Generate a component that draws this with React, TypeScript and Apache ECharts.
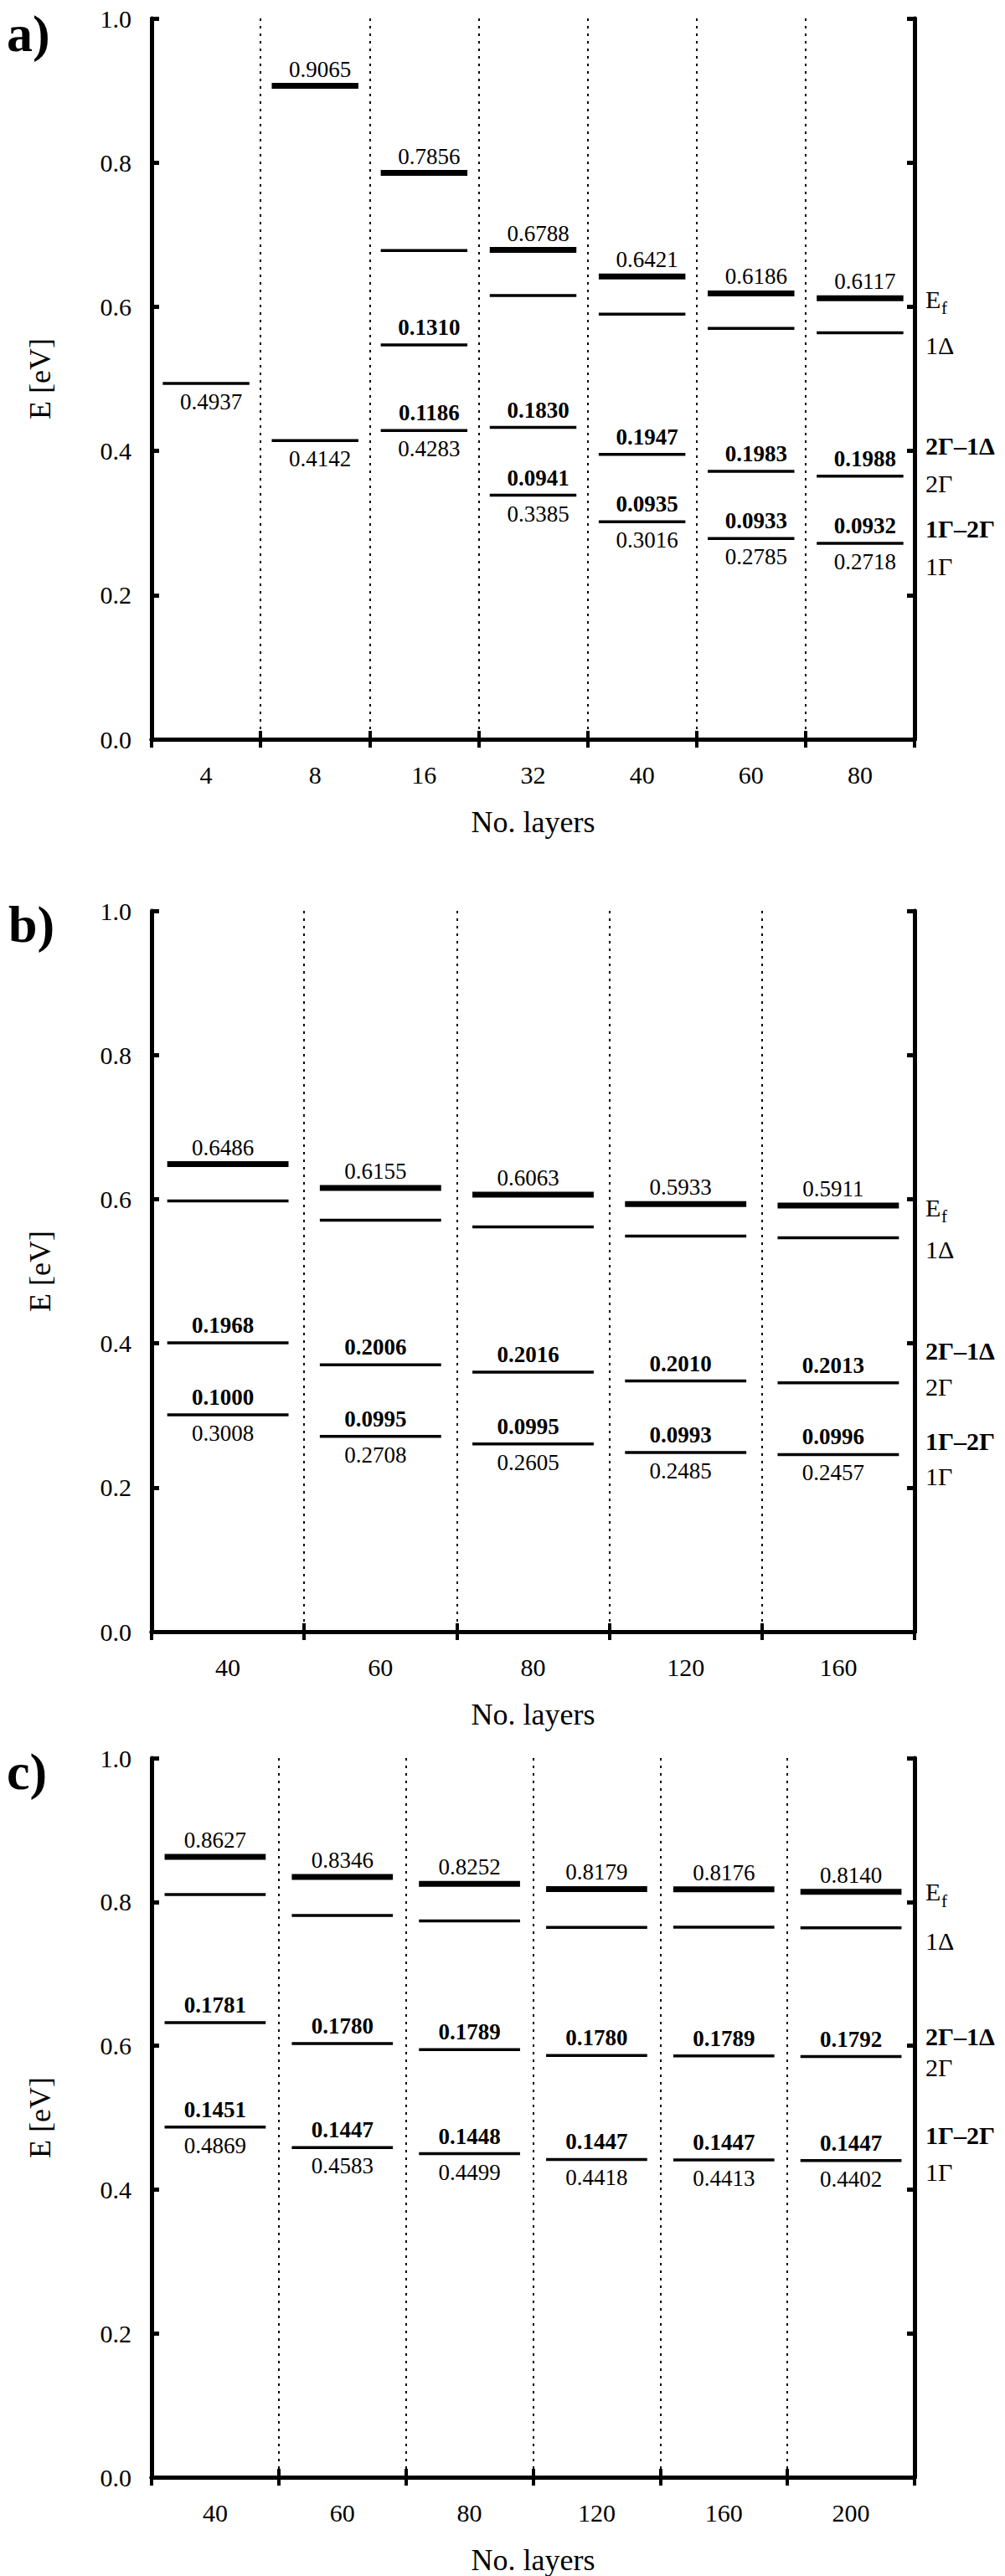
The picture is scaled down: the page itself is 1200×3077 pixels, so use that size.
import React, { useEffect, useRef } from 'react';
import * as echarts from 'echarts';

// ---------- data ----------
// panel a)
const layersA = ['4', '8', '16', '32', '40', '60', '80'];
const efA = [null, 0.9065, 0.7856, 0.6788, 0.6421, 0.6186, 0.6117];
const delta1A = [null, null, 0.6779, 0.6156, 0.5898, 0.5701, 0.5638];
const gamma2A = [null, null, 0.5469, 0.4326, 0.3951, 0.3718, 0.365];
const gamma1A = [0.4937, 0.4142, 0.4283, 0.3385, 0.3016, 0.2785, 0.2718];
const gap2G1DA = [null, null, 0.131, 0.183, 0.1947, 0.1983, 0.1988];
const gap1G2GA = [null, null, 0.1186, 0.0941, 0.0935, 0.0933, 0.0932];

// panel b)
const layersB = ['40', '60', '80', '120', '160'];
const efB = [0.6486, 0.6155, 0.6063, 0.5933, 0.5911];
const delta1B = [0.5976, 0.5709, 0.5616, 0.5488, 0.5466];
const gamma2B = [0.4008, 0.3703, 0.36, 0.3478, 0.3453];
const gamma1B = [0.3008, 0.2708, 0.2605, 0.2485, 0.2457];
const gap2G1DB = [0.1968, 0.2006, 0.2016, 0.201, 0.2013];
const gap1G2GB = [0.1, 0.0995, 0.0995, 0.0993, 0.0996];

// panel c)
const layersC = ['40', '60', '80', '120', '160', '200'];
const efC = [0.8627, 0.8346, 0.8252, 0.8179, 0.8176, 0.814];
const delta1C = [0.8101, 0.781, 0.7736, 0.7645, 0.7649, 0.7641];
const gamma2C = [0.632, 0.603, 0.5947, 0.5865, 0.586, 0.5849];
const gamma1C = [0.4869, 0.4583, 0.4499, 0.4418, 0.4413, 0.4402];
const gap2G1DC = [0.1781, 0.178, 0.1789, 0.178, 0.1789, 0.1792];
const gap1G2GC = [0.1451, 0.1447, 0.1448, 0.1447, 0.1447, 0.1447];

// axis
const yMin = 0;
const yMax = 1;
const yStep = 0.2;
const xTitle = 'No. layers';
const yTitle = 'E [eV]';
const levelNames = ['E', '1Δ', '2Γ–1Δ', '2Γ', '1Γ–2Γ', '1Γ'];
const levelBold = [false, false, true, false, true, false];

// ---------- layout / style ----------
const FONT = 'Liberation Serif, Times New Roman, serif';
const GRID_LEFT = 181;
const GRID_W = 911;
const GRID_H = 861;
const BAR_FRAC = 0.795;

type Arr = (number | null)[];
type Panel = {
  cats: string[];
  ef: Arr;
  d1: Arr;
  g2: Arr;
  g1: number[];
  gapD: Arr;
  gapG: Arr;
  top: number;
  labelDx: number;
  rightDy: number[];
  letter: string;
  letterX: number;
  letterY: number;
};

const panels: Panel[] = [
  {
    cats: layersA, ef: efA, d1: delta1A, g2: gamma2A, g1: gamma1A, gapD: gap2G1DA, gapG: gap1G2GA,
    top: 22, labelDx: 6, rightDy: [1, 15, -36, 9, -17, 28], letter: 'a)', letterX: 8, letterY: 40,
  },
  {
    cats: layersB, ef: efB, d1: delta1B, g2: gamma2B, g1: gamma1B, gapD: gap2G1DB, gapG: gap1G2GB,
    top: 1088, labelDx: -6, rightDy: [2, 14, -38, 5, -16, 26], letter: 'b)', letterX: 10, letterY: 1104,
  },
  {
    cats: layersC, ef: efC, d1: delta1C, g2: gamma2C, g1: gamma1C, gapD: gap2G1DC, gapG: gap1G2GC,
    top: 2100, labelDx: 0, rightDy: [0, 16, -24, 13, -30, 14], letter: 'c)', letterX: 8, letterY: 2116,
  },
];

function makeRenderer(p: Panel) {
  return (params: any, api: any) => {
    const i = params.dataIndex;
    const cs = params.coordSys;
    const w = api.size([1, 0])[0] * BAR_FRAC;
    const cx = api.coord([i, 0])[0];
    const kids: any[] = [];
    const yOf = (v: number) => api.coord([i, v])[1];
    const f4 = (v: number) => v.toFixed(4);
    const line = (v: number, lw: number) =>
      kids.push({
        type: 'line',
        shape: { x1: cx - w / 2, y1: yOf(v), x2: cx + w / 2, y2: yOf(v) },
        style: { stroke: '#000', lineWidth: lw },
      });
    const txt = (s: string, v: number, dy: number, bold: boolean) =>
      kids.push({
        type: 'text',
        x: cx + p.labelDx,
        y: yOf(v) + dy,
        style: {
          text: s,
          fontFamily: FONT,
          fontSize: 27,
          fontWeight: bold ? 'bold' : 'normal',
          fill: '#000',
          align: 'center',
          verticalAlign: 'middle',
        },
      });

    const ef = p.ef[i];
    const d1 = p.d1[i];
    const g2 = p.g2[i];
    const g1 = p.g1[i];
    const gd = p.gapD[i];
    const gg = p.gapG[i];
    if (ef != null) {
      line(ef, 7);
      txt(f4(ef), ef, -20, false);
    }
    if (d1 != null) line(d1, 3.5);
    if (g2 != null) {
      line(g2, 3.5);
      if (gd != null) txt(f4(gd), g2, -21, true);
    }
    line(g1, 3.5);
    if (gg != null) txt(f4(gg), g1, -21, true);
    txt(f4(g1), g1, 22, false);

    if (i === p.cats.length - 1) {
      const anchors = [ef, d1, g2, g2, g1, g1];
      const rx = cs.x + cs.width + 13;
      levelNames.forEach((name, k) => {
        const a = anchors[k];
        if (a == null) return;
        const ty = yOf(a) + p.rightDy[k];
        kids.push({
          type: 'text',
          x: rx,
          y: ty,
          style: {
            text: name,
            fontFamily: FONT,
            fontSize: 30,
            fontWeight: levelBold[k] ? 'bold' : 'normal',
            fill: '#000',
            align: 'left',
            verticalAlign: 'middle',
          },
        });
        if (k === 0) {
          kids.push({
            type: 'text',
            x: rx + 19,
            y: ty + 11,
            style: {
              text: 'f',
              fontFamily: FONT,
              fontSize: 21,
              fill: '#000',
              align: 'left',
              verticalAlign: 'middle',
            },
          });
        }
      });
    }
    return { type: 'group', children: kids };
  };
}

function buildOption() {
  const grid: any[] = [];
  const xAxis: any[] = [];
  const yAxis: any[] = [];
  const series: any[] = [];
  const graphic: any[] = [];
  const axisLine = { show: true, lineStyle: { color: '#000', width: 5 } };

  panels.forEach((p, gi) => {
    grid.push({ left: GRID_LEFT, top: p.top, width: GRID_W, height: GRID_H, containLabel: false });
    xAxis.push({
      type: 'category',
      gridIndex: gi,
      data: p.cats,
      position: 'bottom',
      boundaryGap: true,
      axisLine,
      axisTick: { show: true, inside: true, length: 10, interval: 0, lineStyle: { color: '#000', width: 4 } },
      axisLabel: { interval: 0, margin: 27, fontSize: 30, fontFamily: FONT, color: '#000' },
      splitLine: { show: true, interval: 0, lineStyle: { color: '#000', width: 2, type: [3, 6] } },
      name: xTitle,
      nameLocation: 'middle',
      nameGap: 81,
      nameTextStyle: { fontSize: 36, fontFamily: FONT, color: '#000' },
    });
    xAxis.push({
      type: 'category',
      gridIndex: gi,
      data: p.cats,
      position: 'top',
      boundaryGap: true,
      axisLine,
      axisTick: { show: true, inside: true, length: 10, interval: 0, lineStyle: { color: '#000', width: 4 } },
      axisLabel: { show: false },
      splitLine: { show: false },
    });
    yAxis.push({
      type: 'value',
      gridIndex: gi,
      position: 'left',
      min: yMin,
      max: yMax,
      interval: yStep,
      axisLine,
      axisTick: { show: true, inside: true, length: 9, lineStyle: { color: '#000', width: 5 } },
      axisLabel: {
        margin: 24,
        fontSize: 30,
        fontFamily: FONT,
        color: '#000',
        formatter: (v: number) => v.toFixed(1),
      },
      splitLine: { show: false },
      name: yTitle,
      nameLocation: 'middle',
      nameRotate: 90,
      nameGap: 115,
      nameTextStyle: { fontSize: 36, fontFamily: FONT, color: '#000' },
    });
    yAxis.push({
      type: 'value',
      gridIndex: gi,
      position: 'right',
      min: yMin,
      max: yMax,
      interval: yStep,
      axisLine,
      axisTick: { show: true, inside: true, length: 9, lineStyle: { color: '#000', width: 5 } },
      axisLabel: { show: false },
      splitLine: { show: false },
    });
    series.push({
      type: 'custom',
      xAxisIndex: gi * 2,
      yAxisIndex: gi * 2,
      renderItem: makeRenderer(p),
      data: p.cats.map((_, i) => [i, p.g1[i]]),
      encode: { x: 0, y: 1 },
      clip: false,
      z: 5,
    });
    graphic.push({
      type: 'text',
      x: p.letterX,
      y: p.letterY,
      style: {
        text: p.letter,
        fontFamily: FONT,
        fontSize: 62,
        fontWeight: 'bold',
        fill: '#000',
        align: 'left',
        verticalAlign: 'middle',
      },
    });
  });

  return {
    animation: false,
    backgroundColor: '#fff',
    textStyle: { fontFamily: FONT },
    grid,
    xAxis,
    yAxis,
    series,
    graphic,
  };
}

export default function App() {
  const ref = useRef<HTMLDivElement>(null);
  useEffect(() => {
    document.body.style.margin = '0';
    if (!ref.current) return;
    const chart = echarts.init(ref.current, undefined, { renderer: 'svg' });
    chart.setOption(buildOption() as any);
    return () => chart.dispose();
  }, []);
  return <div ref={ref} style={{ width: 1200, height: 3077 }} />;
}
